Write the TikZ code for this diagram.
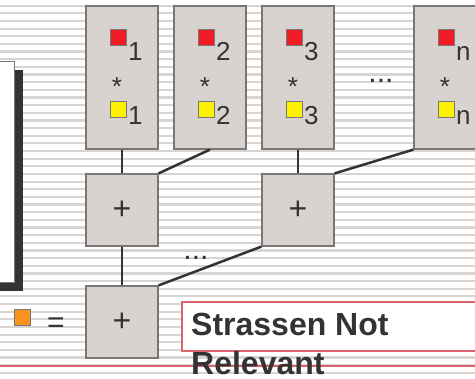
\documentclass[tikz,border=0pt]{standalone}
\usepackage{fontspec}
\setmainfont{Liberation Sans}
\definecolor{stripe}{HTML}{DAD4D1}
\definecolor{boxfill}{HTML}{D9D3D0}
\definecolor{boxline}{HTML}{777777}
\definecolor{wirec}{HTML}{333333}
\definecolor{txt}{HTML}{333333}
\definecolor{redsq}{HTML}{EE1C25}
\definecolor{yellowsq}{HTML}{FFF200}
\definecolor{orangesq}{HTML}{F7941D}
\definecolor{redline}{HTML}{D9646E}
\tikzset{
  prodbox/.style={draw=boxline,fill=boxfill,line width=1.2pt,minimum width=72pt,minimum height=143pt,inner sep=0pt},
  sumbox/.style={prodbox,minimum height=72pt,font=\fontsize{32}{32}\selectfont,text=txt},
  sq/.style={draw=boxline,line width=1pt,minimum size=16pt,inner sep=0pt},
  lbl/.style={font=\fontsize{26}{26}\selectfont,text=txt,inner sep=0pt},
  wire/.style={draw=wirec,line width=2.5pt},
  big/.style={font=\fontsize{32}{32}\selectfont\bfseries,text=txt,inner sep=0pt,anchor=base west},
}
\begin{document}
\begin{tikzpicture}[x=1pt,y=-1pt]
\useasboundingbox (0,0) rectangle (475,379);
% background stripes
\foreach \k in {0,...,48}{
  \draw[stripe,line width=2.2pt] (0,{5.7+7.65*\k}) -- (475,{5.7+7.65*\k});
}
\draw[redline,line width=1.2pt] (0,366) -- (475,366);
% box on the left with its shadow
\fill[wirec] (-5,70) rectangle (23,291);
\draw[boxline,fill=white,line width=1pt] (-5,62) rectangle (14,283);
% products
\foreach \i/\cx in {1/122,2/210,3/298,n/450}{
  \node[prodbox] (p\i) at (\cx,77.5) {};
  \node[sq,fill=redsq] (r\i) at (\cx-4,38) {};
  \node[lbl,anchor=base west] (rl\i) at (\cx+6,61) {\i};
  \node[lbl,anchor=base] (m\i) at (\cx-5,96) {*};
  \node[sq,fill=yellowsq] (y\i) at (\cx-4,110) {};
  \node[lbl,anchor=base west] (yl\i) at (\cx+6,125) {\i};
}
\node[lbl,font=\fontsize{30}{30}\selectfont,anchor=base] (dots1) at (381,83) {...};
% sums
\node[sumbox] (s1) at (122,210) {+};
\node[sumbox] (s2) at (298,210) {+};
\node[sumbox] (s3) at (122,322) {+};
\node[lbl,font=\fontsize{30}{30}\selectfont,anchor=base] (dots2) at (196,260) {...};
\draw[wire] (p1.south) -- (s1.north);
\draw[wire] (p2.south) -- (s1.north east);
\draw[wire] (p3.south) -- (s2.north);
\draw[wire] (pn.south west) -- (s2.north east);
\draw[wire] (s1.south) -- (s3.north);
\draw[wire] (s2.south west) -- (s3.north east);
% result
\node[sq,fill=orangesq] (o) at (22,318) {};
\node[lbl,font=\fontsize{30}{30}\selectfont,anchor=base] (eq) at (56,333) {=};
\draw[redline,line width=1.2pt,fill=white] (182,302) rectangle (490,351);
\node[big] (t1) at (191,336) {Strassen Not};
\node[big] (t2) at (191,375) {Relevant};
\end{tikzpicture}
\end{document}
